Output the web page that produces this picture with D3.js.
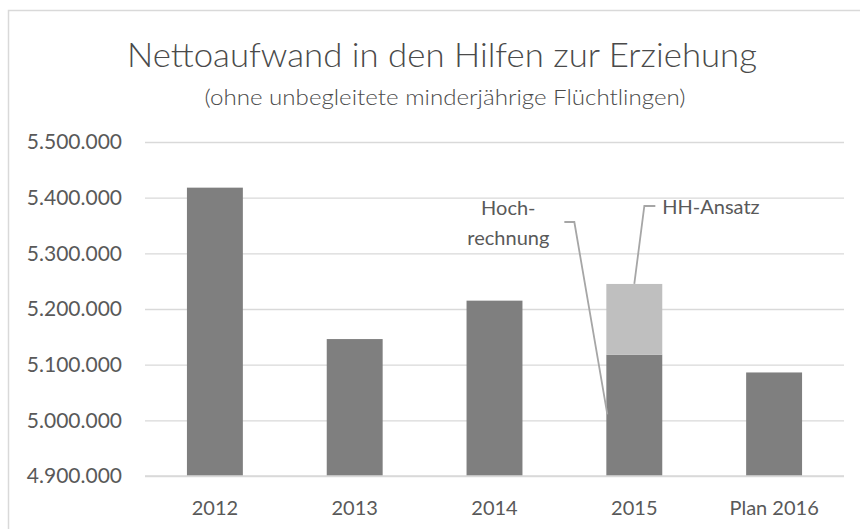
<!DOCTYPE html>
<html>
<head>
<meta charset="utf-8">
<script src="https://cdn.jsdelivr.net/npm/d3@7"></script>
<style>
  body { margin: 0; background: #fff; }
  svg { display: block; }
  text { font-family: Lato, "Open Sans", sans-serif; fill: #595959; }
</style>
</head>
<body>
<div id="plot"></div>
<script>
// data
const categories = ["2012", "2013", "2014", "2015", "Plan 2016"];
const hochrechnung = [5418000, 5146000, 5215000, 5118000, 5086000];
const hhAnsatz = [null, null, null, 5245000, null];
const yTicks = [4900000, 5000000, 5100000, 5200000, 5300000, 5400000, 5500000];

const width = 860, height = 529;
const margin = {left: 145, right: 16, top: 142, bottom: 53};

const de = d3.formatLocale({decimal: ",", thousands: ".", grouping: [3], currency: ["", " €"]});
const fmt = de.format(",.0f");

const svg = d3.select("div#plot")
  .append("svg")
    .attr("width", width)
    .attr("height", height);

// chart frame (runs off the right/bottom of the picture)
svg.append("rect")
  .attr("x", 8.5).attr("y", 10.5)
  .attr("width", 900).attr("height", 600)
  .attr("fill", "#fff")
  .attr("stroke", "#d9d9d9")
  .attr("stroke-width", 1.5);

const x = d3.scaleBand()
  .domain(categories)
  .range([margin.left, width - margin.right])
  .paddingInner(0.6)
  .paddingOuter(0.3);

const y = d3.scaleLinear()
  .domain([4900000, 5500000])
  .range([height - margin.bottom, margin.top]);

// gridlines + y labels
const yAxis = svg.append("g")
  .attr("transform", `translate(${margin.left},0)`)
  .call(d3.axisLeft(y)
    .tickValues(yTicks)
    .tickFormat(fmt)
    .tickSize(-(width - margin.left - margin.right))
    .tickPadding(23));
yAxis.select(".domain").remove();
yAxis.selectAll("line").attr("stroke", "#d9d9d9").attr("stroke-width", 1.4);
yAxis.selectAll("text")
  .style("font-size", "21px")
  .attr("fill", "#595959");

// stacked bars
const rows = categories.map(function(c, i) {
  return {
    cat: c,
    hoch: hochrechnung[i],
    plan: hhAnsatz[i] == null ? 0 : hhAnsatz[i] - hochrechnung[i]
  };
});
const series = d3.stack().keys(["hoch", "plan"])(rows);
const colors = {hoch: "#7f7f7f", plan: "#bfbfbf"};

svg.append("g")
  .selectAll("g")
  .data(series)
  .join("g")
    .attr("fill", d => colors[d.key])
  .selectAll("rect")
  .data(d => d.filter(s => s[1] > s[0]))
  .join("rect")
    .attr("x", d => x(d.data.cat))
    .attr("width", x.bandwidth())
    .attr("y", d => y(Math.max(d[1], 4900000)))
    .attr("height", d => y(Math.max(d[0], 4900000)) - y(d[1]));

// bottom line on top of bars
svg.append("line")
  .attr("x1", margin.left).attr("x2", width - margin.right)
  .attr("y1", y(4900000)).attr("y2", y(4900000))
  .attr("stroke", "#d9d9d9").attr("stroke-width", 1.4);

// category labels
const xAxis = svg.append("g")
  .attr("transform", `translate(0,${y(4900000)})`)
  .call(d3.axisBottom(x).tickSize(0).tickPadding(25));
xAxis.select(".domain").remove();
xAxis.selectAll("text")
  .style("font-size", "20px")
  .attr("fill", "#595959");

// title
svg.append("text")
  .attr("x", 442).attr("y", 67)
  .attr("text-anchor", "middle")
  .attr("textLength", 630)
  .attr("lengthAdjust", "spacingAndGlyphs")
  .style("font-size", "34px")
  .style("font-weight", 300)
  .style("fill", "#4a4a4a")
  .text("Nettoaufwand in den Hilfen zur Erziehung");

svg.append("text")
  .attr("x", 445).attr("y", 105)
  .attr("text-anchor", "middle")
  .attr("textLength", 481)
  .attr("lengthAdjust", "spacingAndGlyphs")
  .style("font-size", "21px")
  .style("font-weight", 300)
  .style("fill", "#4a4a4a")
  .text("(ohne unbegleitete minderjährige Flüchtlingen)");

// annotations for 2015
const x15 = x("2015");
const leader = d3.line();

svg.append("path")
  .attr("d", leader([[x15 + 1, y(5000000) - 6], [x15 - 32, 222], [x15 - 42, 222]]))
  .attr("fill", "none").attr("stroke", "#a6a6a6").attr("stroke-width", 1.8);

svg.append("path")
  .attr("d", leader([[x15 + x.bandwidth() / 2, y(hhAnsatz[3])], [x15 + 38, 206], [x15 + 49, 206]]))
  .attr("fill", "none").attr("stroke", "#a6a6a6").attr("stroke-width", 1.8);

const hoch = svg.append("text")
  .attr("text-anchor", "middle")
  .style("font-size", "20px");
hoch.append("tspan").attr("x", x15 - 98).attr("y", 215).text("Hoch-");
hoch.append("tspan").attr("x", x15 - 98).attr("y", 245).text("rechnung");

svg.append("text")
  .attr("x", x15 + 56).attr("y", 214)
  .style("font-size", "20px")
  .text("HH-Ansatz");
</script>
</body>
</html>
